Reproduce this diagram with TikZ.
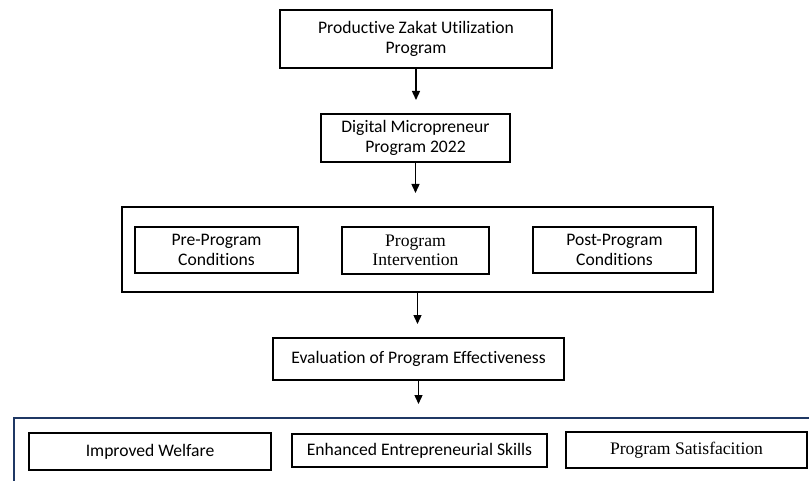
\documentclass[tikz,border=0pt]{standalone}
\usepackage{fontspec}
\setmainfont{Carlito}[Ligatures=CommonOff]
\newfontfamily\romanfam{Liberation Serif}
\usetikzlibrary{arrows.meta}
\definecolor{navyline}{RGB}{31,56,100}

\tikzset{mainbox/.style = {draw, line width = 2pt, inner sep = 0pt, align = center,
                           font = \fontsize{17.6}{19.5}\selectfont},
         subbox/.style = {draw, line width = 1.3pt, inner sep = 0pt, align = center,
                          font = \fontsize{17.6}{19.5}\selectfont},
         romantext/.style = {font = \romanfam\fontsize{17.6}{19.5}\selectfont},
         flow/.style = {line width = 1.4pt, -{Triangle[width=8pt, length=9pt]},
                        shorten > = 13pt}
        }

\begin{document}
\begin{tikzpicture}[x = 1pt, y = 1pt]
  \useasboundingbox (0, 0) rectangle (809, -481);
  \clip (0, 0) rectangle (809, -481);
  % top of the flow
  \node[mainbox, minimum width = 272pt, minimum height = 58pt] (zakat) at (416, -39)
       {Productive Zakat Utilization\\Program};
  \node[mainbox, minimum width = 189pt, minimum height = 48pt] (micro) at (415.5, -138)
       {Digital Micropreneur\\Program 2022};
  % program stages
  \node[mainbox, minimum width = 591pt, minimum height = 85pt] (stages) at (417.5, -249.5) {};
  \node[subbox, minimum width = 163pt, minimum height = 46pt] (pre) at (216.5, -250)
       {Pre-Program\\Conditions};
  \node[subbox, romantext, minimum width = 147pt, minimum height = 47pt] (interv) at (415.5, -250.5)
       {Program\\Intervention};
  \node[subbox, minimum width = 163pt, minimum height = 46pt] (post) at (614.5, -250)
       {Post-Program\\Conditions};
  \node[mainbox, minimum width = 291pt, minimum height = 42pt] (eval) at (418.5, -359)
       {Evaluation of Program Effectiveness};
  % outcomes
  \node[draw = navyline, line width = 2pt, anchor = north west, minimum width = 830pt,
        minimum height = 90pt] (outcome) at (13, -417) {};
  \node[subbox, minimum width = 242pt, minimum height = 37pt] (welfare) at (150, -451.5)
       {Improved Welfare};
  \node[subbox, minimum width = 255pt, minimum height = 33pt] (skills) at (419.5, -450.5)
       {Enhanced Entrepreneurial Skills};
  \node[subbox, romantext, minimum width = 241pt, minimum height = 36pt] (satisf) at (686.5, -450)
       {Program Satisfacition};

  \draw[flow] (zakat.south) -- (zakat.south |- micro.north);
  \draw[flow] (micro.south) -- (micro.south |- stages.north);
  \draw[flow] (stages.south) -- (stages.south |- eval.north);
  \draw[flow] (eval.south) -- (eval.south |- outcome.north);
\end{tikzpicture}
\end{document}
